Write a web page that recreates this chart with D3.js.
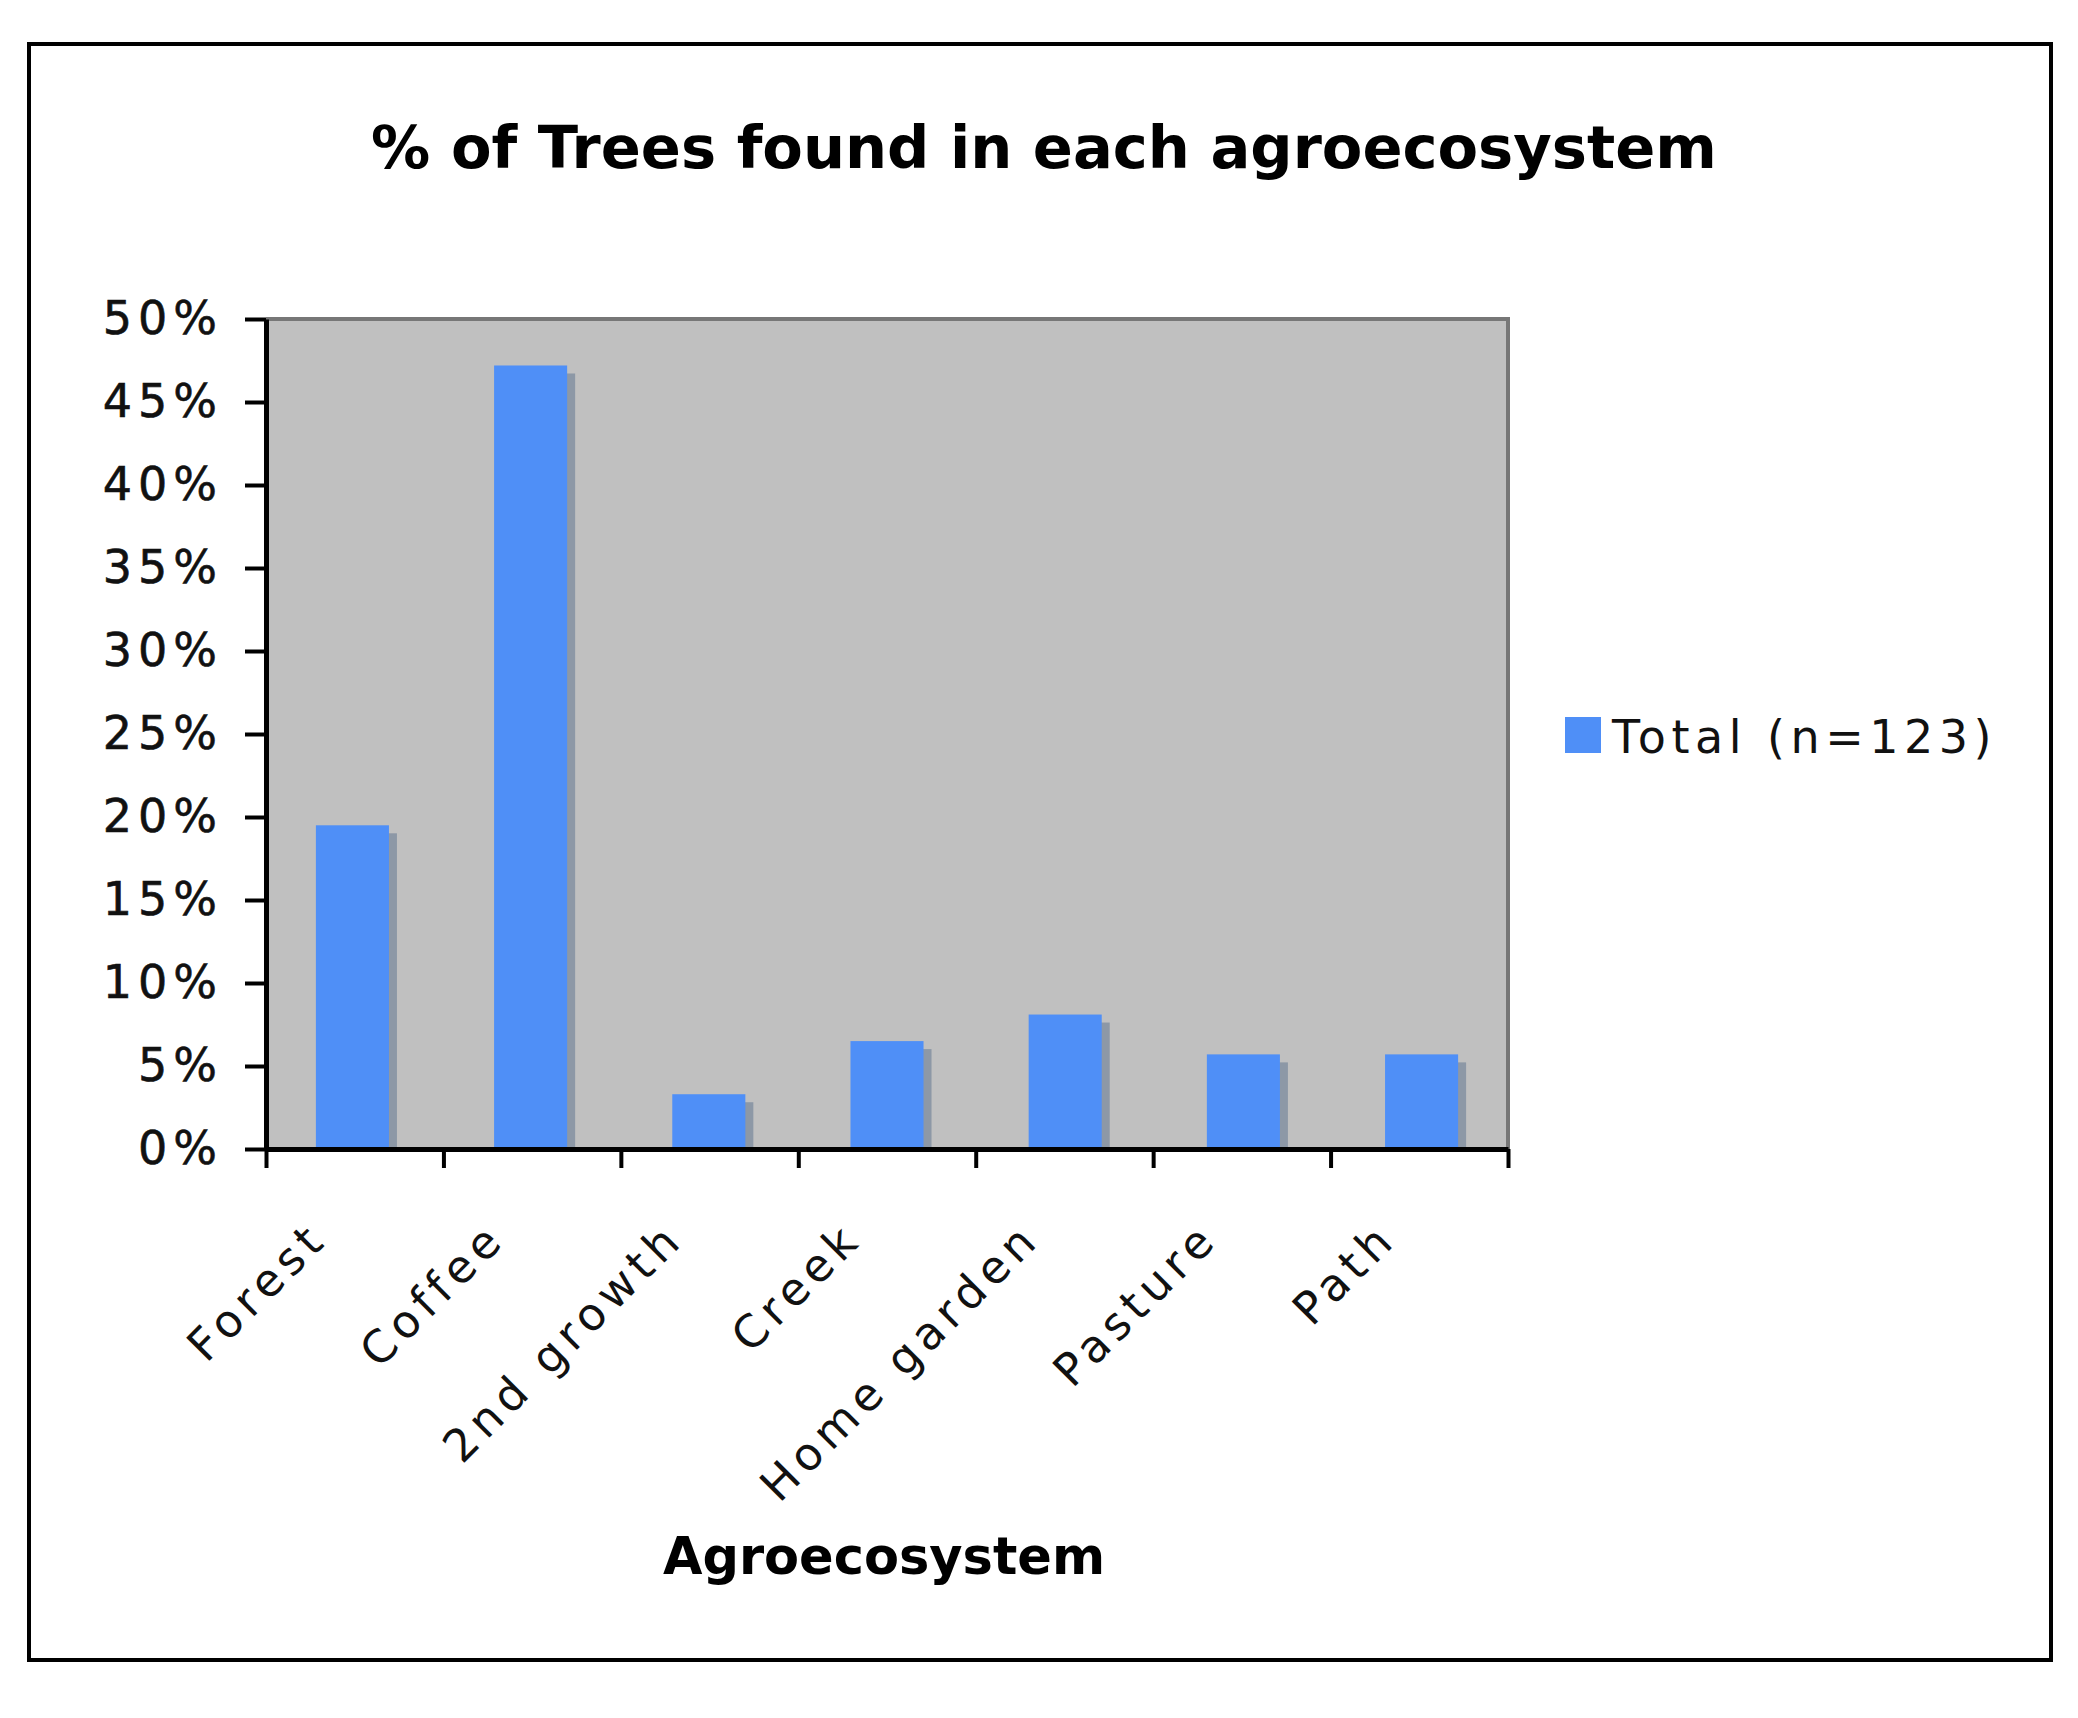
<!DOCTYPE html>
<html>
<head>
<meta charset="utf-8">
<script src="https://cdn.jsdelivr.net/npm/d3@7"></script>
<style>
  body { margin: 0; background: #fff; }
  svg { display: block; }
</style>
</head>
<body>
<svg width="2078" height="1718"></svg>
<script>
// Chart data
const categories = ['Forest', 'Coffee', '2nd growth', 'Creek', 'Home garden', 'Pasture', 'Path']
const percentValues = [19.5, 47.2, 3.3, 6.5, 8.1, 5.7, 5.7]
const yTicks = [0, 5, 10, 15, 20, 25, 30, 35, 40, 45, 50]
const seriesName = 'Total (n=123)'
const chartTitle = '% of Trees found in each agroecosystem'
const xTitle = 'Agroecosystem'

const bars = categories.map((name, i) => ({ name, value: percentValues[i] }))

// Layout
const plot = { left: 266, right: 1508, top: 319, bottom: 1149 }
const barBlue = '#4f8ff7'
const shadowGray = '#8d98a6'
const labelFont = 'Verdana, "DejaVu Sans", sans-serif'

const svg = d3.select('svg')

// Outer frame
svg.append('rect')
  .attr('x', 29)
  .attr('y', 44)
  .attr('width', 2022)
  .attr('height', 1616)
  .attr('fill', '#fff')
  .attr('stroke', '#000')
  .attr('stroke-width', 4)

// Title, fitted to the width it has in the reference
const title = svg.append('text')
  .attr('x', 1044)
  .attr('y', 168)
  .attr('text-anchor', 'middle')
  .style('font-family', labelFont)
  .style('font-weight', 'bold')
  .style('font-size', '56px')
  .text(chartTitle)
const titleLen = title.node().getComputedTextLength()
title.style('font-size', (56 * 1346 / titleLen) + 'px')

// Scales
const yScale = d3.scaleLinear()
  .domain([0, 50])
  .range([plot.bottom, plot.top])

const xScale = d3.scaleBand()
  .domain(categories)
  .range([plot.left, plot.right])
  .paddingInner(0.59)
  .paddingOuter(0.28)

// boundary ticks sit between categories
const xEdge = d3.scaleLinear()
  .domain([0, categories.length])
  .range([plot.left, plot.right])

// Plot background
svg.append('rect')
  .attr('x', plot.left)
  .attr('y', plot.top)
  .attr('width', plot.right - plot.left)
  .attr('height', plot.bottom - plot.top)
  .attr('fill', '#c0c0c0')

// Top and right plot border
svg.append('path')
  .attr('d', `M${plot.left},${plot.top}H${plot.right}V${plot.bottom}`)
  .attr('fill', 'none')
  .attr('stroke', '#777')
  .attr('stroke-width', 4)

// Bar shadows
svg.append('g')
  .selectAll('rect')
  .data(bars)
  .join('rect')
  .attr('x', d => xScale(d.name) + 8)
  .attr('y', d => yScale(d.value) + 8)
  .attr('width', xScale.bandwidth())
  .attr('height', d => plot.bottom - yScale(d.value) - 8)
  .attr('fill', shadowGray)

// Bars
svg.append('g')
  .selectAll('rect')
  .data(bars)
  .join('rect')
  .attr('x', d => xScale(d.name))
  .attr('y', d => yScale(d.value))
  .attr('width', xScale.bandwidth())
  .attr('height', d => plot.bottom - yScale(d.value))
  .attr('fill', barBlue)

// Y axis
const yAxis = svg.append('g')
  .attr('transform', `translate(${plot.left},0)`)
  .call(d3.axisLeft(yScale)
    .tickValues(yTicks)
    .tickSize(21)
    .tickSizeOuter(0)
    .tickPadding(22)
    .tickFormat(d => d + '%'))
yAxis.select('.domain').attr('stroke', '#000').attr('stroke-width', 5)
yAxis.selectAll('.tick line').attr('stroke', '#000').attr('stroke-width', 4)
yAxis.selectAll('.tick text')
  .attr('fill', '#111')
  .attr('stroke', '#111')
  .attr('stroke-width', 0.6)
  .style('font-family', labelFont)
  .style('font-size', '46px')
  .style('letter-spacing', '6px')

// X axis with ticks at category edges
const xAxis = svg.append('g')
  .attr('transform', `translate(0,${plot.bottom})`)
  .call(d3.axisBottom(xEdge)
    .tickValues(d3.range(categories.length + 1))
    .tickSize(19)
    .tickSizeOuter(0)
    .tickFormat(''))
xAxis.select('.domain').attr('stroke', '#000').attr('stroke-width', 5)
xAxis.selectAll('.tick line').attr('stroke', '#000').attr('stroke-width', 4)

// Rotated category labels
svg.append('g')
  .selectAll('text')
  .data(categories)
  .join('text')
  .attr('transform', d => `translate(${xScale(d) + xScale.bandwidth() / 2 - 23},${plot.bottom + 92}) rotate(-45)`)
  .attr('text-anchor', 'end')
  .attr('fill', '#111')
  .style('font-family', labelFont)
  .style('font-size', '45px')
  .style('letter-spacing', '6px')
  .text(d => d)

// X axis title
svg.append('text')
  .attr('x', 884)
  .attr('y', 1574)
  .attr('text-anchor', 'middle')
  .style('font-family', labelFont)
  .style('font-weight', 'bold')
  .style('font-size', '51px')
  .text(xTitle)

// Legend
const legend = svg.append('g')
  .attr('transform', 'translate(1565,717)')
legend.append('rect')
  .attr('width', 36)
  .attr('height', 36)
  .attr('fill', barBlue)
legend.append('text')
  .attr('x', 47)
  .attr('y', 36)
  .attr('fill', '#111')
  .style('font-family', labelFont)
  .style('font-size', '46px')
  .style('letter-spacing', '5.5px')
  .text(seriesName)
</script>
</body>
</html>
